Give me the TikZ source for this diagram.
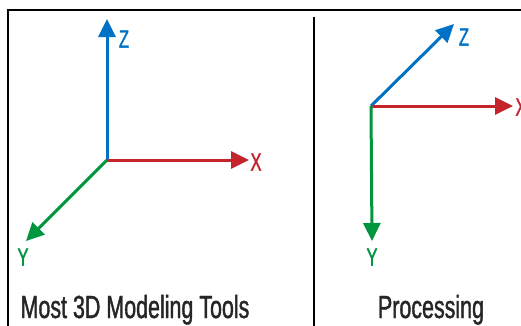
\documentclass[tikz,border=0pt]{standalone}
\usepackage{fontspec}
\setmainfont{Liberation Sans}[FakeStretch=0.67,FakeBold=1.2]
\usetikzlibrary{arrows.meta}
\definecolor{axblue}{RGB}{0,114,198}
\definecolor{axred}{RGB}{196,36,44}
\definecolor{axgreen}{RGB}{0,150,62}
\tikzset{
  axis/.style={line width=3pt,-{Triangle[length=18pt,width=17pt]}},
  axlabel/.style={inner sep=0pt,font=\fontsize{25}{25}\selectfont},
  caption/.style={inner sep=0pt,anchor=base,font=\fontsize{32}{32}\selectfont,text=black!85},
  frame/.style={line width=2pt,draw=black}
}
\begin{document}
\begin{tikzpicture}[x=1pt,y=-1pt]
\useasboundingbox (0,0) rectangle (521,325);
\clip (0,0) rectangle (521,325);
\fill[white] (0,0) rectangle (521,325);
\draw[frame] (8,10) rectangle (540,345);
\draw[frame] (314,17) -- (314,345);
% left panel
\coordinate (oL) at (107,160);
\coordinate (zL) at (107,19);
\coordinate (xL) at (249,160);
\coordinate (yL) at (26,241);
\draw[axis,axblue] (oL) -- (zL);
\draw[axis,axred] (oL) -- (xL);
\draw[axis,axgreen] (oL) -- (yL);
\node[axlabel,text=axblue] (lzL) at (124,39) {Z};
\node[axlabel,text=axred] (lxL) at (256,162) {X};
\node[axlabel,text=axgreen] (lyL) at (23,257) {Y};
\node[caption] (cL) at (135,318) {Most 3D Modeling Tools};
% right panel
\coordinate (oR) at (371,106);
\coordinate (zR) at (454,24);
\coordinate (xR) at (513,106);
\coordinate (yR) at (372,241);
\draw[axis,axblue] (oR) -- (zR);
\draw[axis,axred] (oR) -- (xR);
\draw[axis,axgreen] (oR) -- (yR);
\node[axlabel,text=axblue] (lzR) at (464,37) {Z};
\node[axlabel,text=axred] (lxR) at (521,107) {X};
\node[axlabel,text=axgreen] (lyR) at (372,257) {Y};
\node[caption] (cR) at (431,318) {Processing};
\end{tikzpicture}
\end{document}
